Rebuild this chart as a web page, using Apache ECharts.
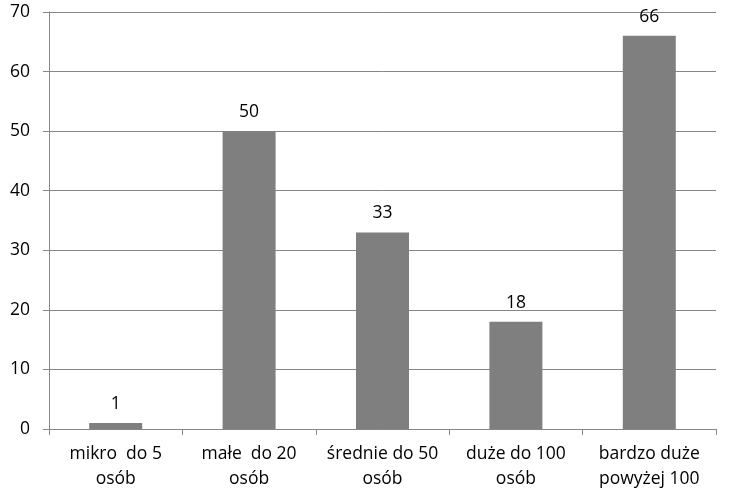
<!DOCTYPE html>
<html><head><meta charset="utf-8">
<script src="https://cdn.jsdelivr.net/npm/echarts@6/dist/echarts.min.js"></script>
<style>html,body{margin:0;padding:0;background:#fff}#c{width:734px;height:497px}</style>
</head><body><div id="c"></div>
<script>
const categories = ["mikro  do 5\nosób", "małe  do 20\nosób", "średnie do 50\nosób", "duże do 100\nosób", "bardzo duże\npowyżej 100"];
const values = [1, 50, 33, 18, 66];
const yTicks = [0, 10, 20, 30, 40, 50, 60, 70];

const font = "Open Sans";
const chart = echarts.init(document.getElementById('c'), null, {renderer: 'canvas'});
chart.setOption({
  animation: false,
  grid: {left: 49, right: 18, top: 12, bottom: 68},
  xAxis: {
    type: 'category', data: categories,
    axisLine: {lineStyle: {color: '#868686', width: 1}},
    axisTick: {show: true, alignWithLabel: false, length: 6, lineStyle: {color: '#868686'}},
    axisLabel: {color: '#000', fontFamily: font, fontSize: 17.5, lineHeight: 25, margin: 13, interval: 0}
  },
  yAxis: {
    type: 'value', min: yTicks[0], max: yTicks[yTicks.length - 1], interval: 10,
    axisLine: {show: true, lineStyle: {color: '#868686', width: 1}},
    axisTick: {show: true, length: 6, lineStyle: {color: '#868686'}},
    splitLine: {lineStyle: {color: '#868686', width: 1}},
    axisLabel: {color: '#000', fontFamily: font, fontSize: 17.5, margin: 19}
  },
  series: [{
    type: 'bar', data: values, barWidth: 53,
    itemStyle: {color: '#7f7f7f'},
    label: {show: true, position: 'top', distance: 10, color: '#000', fontFamily: font, fontSize: 17.5}
  }]
});
</script></body></html>
